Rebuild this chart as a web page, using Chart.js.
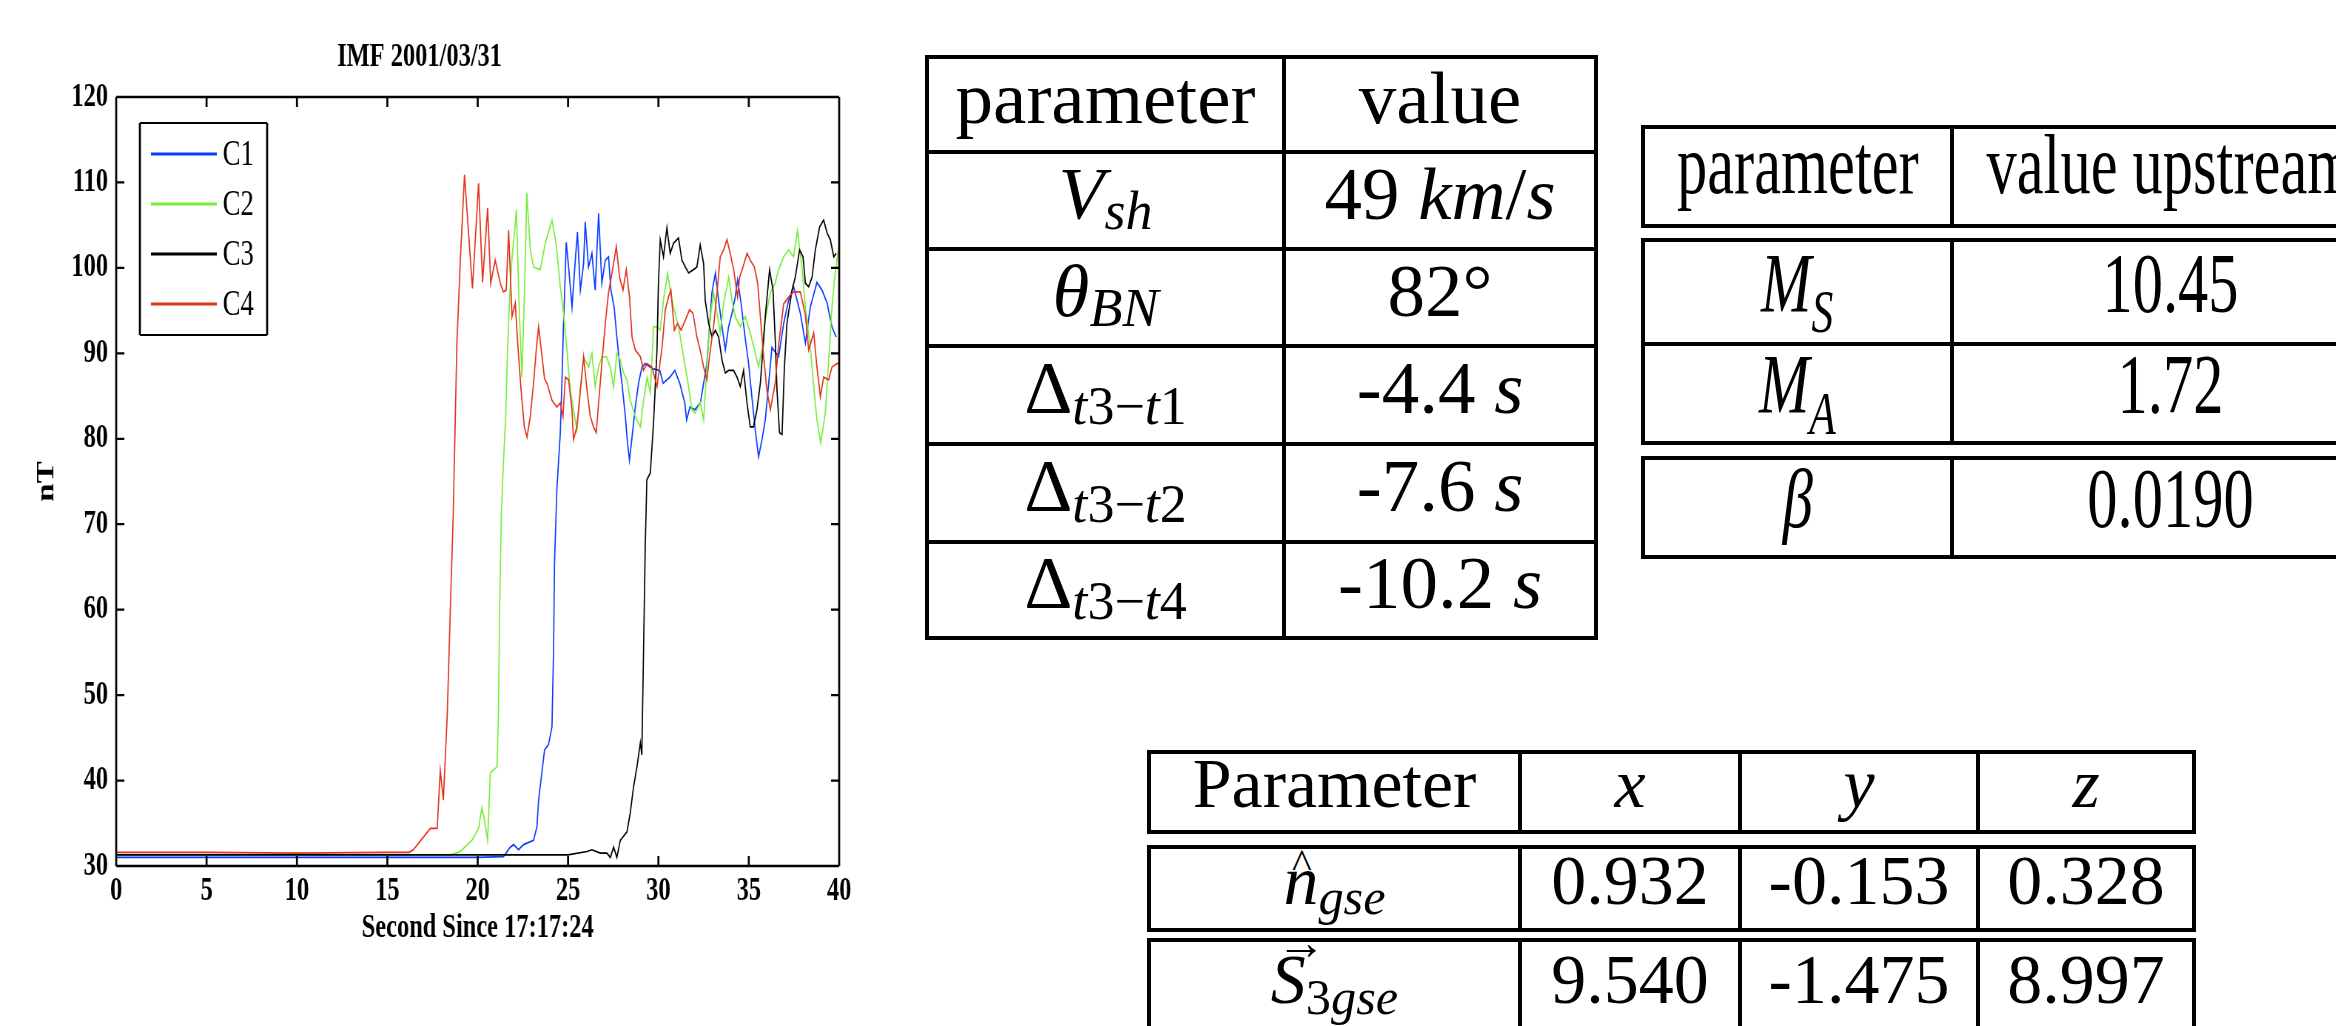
<!DOCTYPE html>
<html>
<head>
<meta charset="utf-8">
<title>IMF 2001/03/31</title>
<script src="https://cdn.jsdelivr.net/npm/chart.js@4.4.1/dist/chart.umd.min.js"></script>
<style>
  html, body { margin: 0; padding: 0; background: #fff; }
  body { width: 2336px; height: 1026px; overflow: hidden; position: relative; }

  /* the figure in the reference is squeezed horizontally, so the canvas is too */
  #plot { position: absolute; left: 0; top: 0; transform: scaleX(0.74); transform-origin: 0 0; }

  .tab { position: absolute; display: grid; background: #000; padding: 4px; gap: 4px;
         font-family: 'Liberation Serif', 'Times New Roman', serif; color: #000; }
  .tab > div { background: #fff; display: flex; align-items: center; justify-content: center;
               white-space: nowrap; line-height: 1; box-sizing: border-box; }
  .s { position: relative; top: 0.34em; font-size: 0.72em; }
  .sq { display: inline-block; transform: scaleX(0.72); }
  .acc { position: relative; display: inline-block; }
  .hat { position: absolute; left: 0.05em; right: 0; top: -0.06em; text-align: center; font-style: normal; font-size: 0.6em; }
  .arr { position: absolute; left: 0.12em; right: 0; top: -0.55em; text-align: center; font-style: normal; font-size: 0.7em; }

  #t1 { left: 925px; top: 55px; grid-template-columns: 353px 308px;
        grid-template-rows: 91px 93px 93px 94px 94px 92px; font-size: 75px; }
  #t1 > div { padding-bottom: 15px; }

  #t2a, #t2b, #t2c { left: 1641px; grid-template-columns: 305px 432px; font-size: 84px; }
  #t2a { top: 125px; grid-template-rows: 95px; }
  #t2a > div { padding-bottom: 24px; }
  #t2b { top: 238px; grid-template-rows: 100px 95px; }
  #t2c { top: 456px; grid-template-rows: 95px; }
  #t2b > div, #t2c > div { padding-bottom: 17px; }

  #t3a, #t3b, #t3c { left: 1147px; grid-template-columns: 367px 216px 234px 212px; font-size: 70px; }
  #t3a { top: 750px; grid-template-rows: 76px; }
  #t3b { top: 845px; grid-template-rows: 79px; }
  #t3c { top: 938px; grid-template-rows: 92px; }
  #t3a > div, #t3b > div, #t3c > div { padding-bottom: 16px; }
</style>
</head>
<body>

<div id="plot"><canvas id="imf" width="1290" height="980"></canvas></div>

<div class="tab" id="t1">
  <div>parameter</div><div>value</div>
  <div><i>V</i><span class="s"><i>sh</i></span></div><div>49&nbsp;<i>km</i>/<i>s</i></div>
  <div><i>θ</i><span class="s"><i>BN</i></span></div><div>82°</div>
  <div>Δ<span class="s"><i>t</i>3−<i>t</i>1</span></div><div>-4.4&nbsp;<i>s</i></div>
  <div>Δ<span class="s"><i>t</i>3−<i>t</i>2</span></div><div>-7.6&nbsp;<i>s</i></div>
  <div>Δ<span class="s"><i>t</i>3−<i>t</i>4</span></div><div>-10.2&nbsp;<i>s</i></div>
</div>

<div class="tab" id="t2a">
  <div><span class="sq">parameter</span></div><div><span class="sq">value upstream</span></div>
</div>
<div class="tab" id="t2b">
  <div><span class="sq"><i>M</i><span class="s"><i>S</i></span></span></div><div><span class="sq">10.45</span></div>
  <div><span class="sq"><i>M</i><span class="s"><i>A</i></span></span></div><div><span class="sq">1.72</span></div>
</div>
<div class="tab" id="t2c">
  <div><span class="sq"><i>β</i></span></div><div><span class="sq">0.0190</span></div>
</div>

<div class="tab" id="t3a">
  <div>Parameter</div><div><i>x</i></div><div><i>y</i></div><div><i>z</i></div>
</div>
<div class="tab" id="t3b">
  <div><i class="acc">n<span class="hat">^</span></i><span class="s"><i>gse</i></span></div><div>0.932</div><div>-0.153</div><div>0.328</div>
</div>
<div class="tab" id="t3c">
  <div><i class="acc">S<span class="arr">→</span></i><span class="s">3<i>gse</i></span></div><div>9.540</div><div>-1.475</div><div>8.997</div>
</div>

<script>
// |B| per spacecraft, [seconds since 17:17:24, nT]
const c1Samples = [[0,31],[5,31],[10,31],[15,31],[20,31],[21.43,31.1],[21.8,32.2],[21.99,32.5],[22.26,31.9],[22.54,32.5],[23.09,33],[23.28,34.6],[23.37,37.7],[23.55,40.9],[23.7,43.6],[23.92,44.2],[24.11,46.3],[24.2,55.6],[24.25,65.4],[24.38,74],[24.57,80.7],[24.66,86.5],[24.75,93.5],[24.84,98.9],[24.9,103],[25.03,100.1],[25.22,95.4],[25.4,100.9],[25.52,104.2],[25.68,97.4],[25.86,100.5],[25.95,105.4],[26.13,100.1],[26.32,101.7],[26.5,97.4],[26.69,106.4],[26.87,98.2],[27.06,100.9],[27.24,101.3],[27.37,97.4],[27.55,95.4],[27.7,91.9],[27.85,88.8],[27.98,86.5],[28.17,82.6],[28.29,79.5],[28.4,77.5],[28.54,80.2],[28.72,83.7],[28.9,86.5],[29.09,88.4],[29.27,88.8],[29.66,88.2],[30.08,88],[30.26,86.5],[30.63,87.2],[30.91,88],[31.18,86.5],[31.46,84.2],[31.56,82.2],[31.74,83.7],[32.02,83.4],[32.32,84.2],[32.5,86.5],[32.68,88.8],[32.96,97.1],[33.15,99.4],[33.33,96.2],[33.52,93.1],[33.7,90.4],[33.88,93.1],[34.07,94.7],[34.25,96.6],[34.38,98.6],[34.57,95.9],[34.81,91.6],[34.99,88.8],[35.17,84.9],[35.36,81],[35.54,77.9],[35.73,79.9],[35.91,82.2],[36.08,86],[36.28,90.7],[36.65,89.6],[36.93,93.5],[37.2,96.2],[37.48,97.8],[37.85,94.7],[38.13,91.2],[38.4,95.4],[38.77,98.3],[39.05,97.4],[39.33,95.9],[39.6,93.1],[39.84,91.9]];

const c2Samples = [[0,31.3],[5,31.3],[10,31.3],[15,31.3],[18.5,31.3],[19.04,31.7],[19.68,33],[20.05,34.4],[20.23,36.8],[20.37,35.5],[20.55,33],[20.7,40.9],[21.07,41.6],[21.15,47.9],[21.21,59.6],[21.31,71.3],[21.42,77],[21.55,82.6],[21.65,90.4],[21.76,96.2],[21.89,100.9],[22.05,104.5],[22.14,106.8],[22.3,95],[22.45,87.2],[22.6,98],[22.72,108.8],[22.91,102.1],[23.09,100.1],[23.46,99.8],[23.74,102.9],[24.11,105.6],[24.34,102.9],[24.57,97.8],[24.75,94.7],[24.94,90.4],[25.12,85.7],[25.3,83.4],[25.49,81],[25.68,85.7],[25.86,89.6],[26.14,88.4],[26.32,90],[26.5,86.1],[26.69,88.4],[26.87,89.6],[27.12,89.6],[27.34,88.4],[27.52,86.1],[27.7,90],[27.89,89.2],[28.07,87.7],[28.26,86.9],[28.44,84.5],[28.72,82.6],[29,81.4],[29.18,84.5],[29.37,87.2],[29.55,85.4],[29.73,93.1],[29.92,93.1],[30.1,92.7],[30.28,96.2],[30.51,99.4],[30.65,97.4],[30.84,95.4],[31.11,93.1],[31.39,89.6],[31.67,86.1],[31.85,83.4],[32.04,83],[32.32,84.2],[32.5,82.2],[32.68,88.4],[32.87,94.3],[33.05,97.1],[33.24,94.7],[33.42,92.4],[33.61,95.9],[33.89,98.9],[34.07,96.2],[34.25,94.3],[34.53,93.1],[34.81,94.3],[35.08,92.4],[35.36,90],[35.54,88.4],[35.73,90.5],[35.91,93.9],[36.19,97.1],[36.46,98.2],[36.65,99.8],[36.93,101.3],[37.2,102.1],[37.48,101.3],[37.69,104.4],[37.94,100.1],[38.13,95.4],[38.4,90.7],[38.59,86.1],[38.77,82.2],[38.98,79.5],[39.23,83],[39.42,89.2],[39.6,95.4],[39.78,99.4],[39.97,102.4]];

const c3Samples = [[0,31.3],[5,31.3],[10,31.3],[15,31.3],[20,31.3],[25,31.3],[26.05,31.7],[26.32,31.9],[26.78,31.5],[27.15,31.5],[27.34,31],[27.52,32.2],[27.7,31],[27.89,33],[28.26,34],[28.44,36.2],[28.62,39.2],[28.84,42],[29,44.4],[29.08,43],[29.18,55.6],[29.27,67.3],[29.36,75.2],[29.55,76],[29.73,81.9],[29.92,90.4],[30,98.2],[30.1,103.3],[30.28,101.3],[30.47,104.7],[30.65,101.7],[30.84,102.9],[31.11,103.5],[31.3,100.9],[31.49,100.1],[31.67,99.4],[31.95,99.8],[32.13,100.1],[32.31,102.7],[32.5,100.5],[32.59,96.2],[32.78,93.5],[32.96,91.9],[33.15,92.7],[33.33,91.9],[33.52,89.2],[33.7,87.7],[33.88,88],[34.16,88],[34.35,87.2],[34.53,86.1],[34.71,88],[34.9,84.2],[35.08,81.4],[35.26,81.4],[35.45,83.4],[35.64,86.5],[35.82,91.6],[35.91,94.3],[36.15,99.8],[36.34,97.4],[36.47,91.2],[36.56,85.7],[36.7,80.7],[36.84,80.5],[36.97,88.4],[37.11,93.5],[37.39,97.4],[37.57,98.9],[37.81,102.1],[38,101.3],[38.13,98.2],[38.31,97.8],[38.5,98.9],[38.68,102.1],[38.92,104.8],[39.14,105.6],[39.33,104.1],[39.51,103.3],[39.7,101.3],[39.84,101.7]];

const c4Samples = [[0,31.6],[5,31.6],[10,31.5],[15,31.6],[16.2,31.6],[16.44,31.9],[17.38,34.4],[17.76,34.4],[17.93,41.2],[18.1,37.7],[18.32,47.9],[18.48,59.6],[18.65,71.3],[18.85,91.2],[19.04,100.9],[19.27,110.9],[19.71,97.6],[20.05,109.9],[20.27,98.3],[20.55,107],[20.72,98.2],[20.97,100.9],[21.25,98.2],[21.42,97.2],[21.58,97.4],[21.71,104.4],[21.9,94.3],[22.08,95.9],[22.2,91.6],[22.39,86],[22.58,81.4],[22.73,80.2],[22.91,82.6],[23.09,86.5],[23.24,90.4],[23.37,93.1],[23.56,89.6],[23.7,87],[23.83,86.5],[24.11,84.5],[24.38,83.7],[24.57,84.2],[24.72,82.6],[24.85,87.2],[25.03,86.9],[25.22,83.4],[25.3,79.9],[25.49,81.4],[25.68,85.7],[25.86,89.6],[26.05,85.7],[26.23,82.6],[26.41,81.4],[26.56,80.7],[26.69,84.2],[26.87,88.8],[27.06,93.5],[27.24,97.1],[27.43,99.4],[27.67,102.5],[27.85,98.9],[28.04,97.4],[28.22,99.8],[28.4,96.6],[28.54,91.9],[28.72,90.4],[29,89.6],[29.18,88],[29.37,88.8],[29.64,88.4],[29.92,86.1],[30.2,90.7],[30.38,95.1],[30.56,96.6],[30.69,97.4],[30.88,92.7],[31.06,93.5],[31.25,92.7],[31.49,93.9],[31.72,95.1],[31.91,94.7],[32.13,91.9],[32.31,90.4],[32.5,88.4],[32.68,86.9],[32.87,90.4],[33.05,93.1],[33.24,97.1],[33.42,101.3],[33.61,102.1],[33.79,103.3],[33.97,101.7],[34.16,99.8],[34.38,96.6],[34.49,98.9],[34.68,100.1],[34.9,101.7],[35.08,100.9],[35.31,100.1],[35.49,98.2],[35.64,94.3],[35.82,89.6],[36,85.7],[36.19,83.4],[36.46,86.5],[36.65,91],[36.93,95.8],[37.21,96.6],[37.48,97.2],[37.85,97.2],[38.13,94.5],[38.31,90.4],[38.59,92.4],[38.77,88.4],[38.96,84.9],[39.14,87.2],[39.42,86.9],[39.6,88.4],[39.88,88.8],[40,88.8]];

const seriesLabels = ["C1", "C2", "C3", "C4"];
const seriesColors = ["#0a3cff", "#78ee3c", "#000000", "#e2341e"];
const seriesSamples = [c1Samples, c2Samples, c3Samples, c4Samples];

const xRange = [0, 40];   // tick every 5 s
const yRange = [30, 120]; // tick every 10 nT

const FONT = "'Liberation Serif', 'Times New Roman', serif";
const SQUEEZE = 0.74; // same as the css scaleX on #plot

// box round the plot, inward ticks on all four sides, legend top-left
const framePlugin = {
  id: "frame",
  afterDraw(chart) {
    const { ctx, chartArea: a, scales } = chart;
    const vw = 2 / SQUEEZE; // vertical strokes get thinner after the squeeze
    ctx.save();
    ctx.strokeStyle = "#000";

    ctx.lineWidth = 2.4;
    ctx.beginPath();
    ctx.moveTo(a.left, a.top); ctx.lineTo(a.right, a.top);
    ctx.moveTo(a.left, a.bottom); ctx.lineTo(a.right, a.bottom);
    ctx.stroke();
    ctx.lineWidth = vw;
    ctx.beginPath();
    ctx.moveTo(a.left, a.top); ctx.lineTo(a.left, a.bottom);
    ctx.moveTo(a.right, a.top); ctx.lineTo(a.right, a.bottom);
    ctx.stroke();

    // x ticks
    ctx.beginPath();
    scales.x.ticks.forEach(t => {
      if (t.value <= xRange[0] || t.value >= xRange[1]) return;
      const px = scales.x.getPixelForValue(t.value);
      ctx.moveTo(px, a.top); ctx.lineTo(px, a.top + 10);
      ctx.moveTo(px, a.bottom); ctx.lineTo(px, a.bottom - 10);
    });
    ctx.stroke();

    // y ticks
    ctx.lineWidth = 2.2;
    ctx.beginPath();
    scales.y.ticks.forEach(t => {
      if (t.value <= yRange[0] || t.value >= yRange[1]) return;
      const py = scales.y.getPixelForValue(t.value);
      ctx.moveTo(a.left, py); ctx.lineTo(a.left + 11, py);
      ctx.moveTo(a.right, py); ctx.lineTo(a.right - 11, py);
    });
    ctx.stroke();

    // legend
    const lx = 189, ly = 123, lw = 172, lh = 212;
    ctx.fillStyle = "#fff";
    ctx.fillRect(lx, ly, lw, lh);
    ctx.lineWidth = 2.2;
    ctx.beginPath();
    ctx.moveTo(lx, ly); ctx.lineTo(lx + lw, ly);
    ctx.moveTo(lx, ly + lh); ctx.lineTo(lx + lw, ly + lh);
    ctx.stroke();
    ctx.lineWidth = vw;
    ctx.beginPath();
    ctx.moveTo(lx, ly); ctx.lineTo(lx, ly + lh);
    ctx.moveTo(lx + lw, ly); ctx.lineTo(lx + lw, ly + lh);
    ctx.stroke();

    ctx.font = "36px " + FONT;
    ctx.textBaseline = "middle";
    chart.data.datasets.forEach((ds, i) => {
      const yy = 154 + i * 50;
      ctx.strokeStyle = ds.borderColor;
      ctx.lineWidth = 3;
      ctx.beginPath();
      ctx.moveTo(204, yy); ctx.lineTo(293, yy);
      ctx.stroke();
      ctx.fillStyle = "#000";
      ctx.fillText(ds.label, 301, yy + 2);
    });
    ctx.restore();
  }
};

const tickFont = { family: FONT, size: 33, weight: "bold" };

new Chart(document.getElementById("imf"), {
  type: "line",
  data: {
    datasets: seriesLabels.map((label, i) => ({
      label,
      data: seriesSamples[i].map(p => ({ x: p[0], y: p[1] })),
      borderColor: seriesColors[i],
      borderWidth: 1.7,
      pointRadius: 0,
      tension: 0,
      fill: false,
      order: seriesLabels.length - i // C4 drawn on top
    }))
  },
  options: {
    responsive: false,
    animation: false,
    devicePixelRatio: 1,
    layout: { padding: { left: 0, right: 156, top: 0, bottom: 0 } },
    plugins: {
      legend: { display: false },
      tooltip: { enabled: false },
      title: {
        display: true,
        text: "IMF 2001/03/31",
        color: "#000",
        font: { family: FONT, size: 33, weight: "bold" },
        padding: { top: 38, bottom: 19.4 }
      }
    },
    scales: {
      x: {
        type: "linear",
        min: xRange[0],
        max: xRange[1],
        ticks: { stepSize: 5, color: "#000", font: tickFont, padding: 6, maxRotation: 0 },
        grid: { display: false, drawTicks: false },
        border: { display: false },
        title: {
          display: true, text: "Second Since 17:17:24", color: "#000",
          font: tickFont, padding: { top: 0, bottom: 32 }
        },
        afterFit: s => { s.height = 114; }
      },
      y: {
        min: yRange[0],
        max: yRange[1],
        ticks: { stepSize: 10, color: "#000", font: tickFont, padding: 11 },
        grid: { display: false, drawTicks: false },
        border: { display: false },
        title: {
          display: true, text: "nT", color: "#000",
          font: tickFont, padding: { top: 44, bottom: 0 }
        },
        afterFit: s => { s.width = 157; }
      }
    }
  },
  plugins: [framePlugin]
});
</script>
</body>
</html>
